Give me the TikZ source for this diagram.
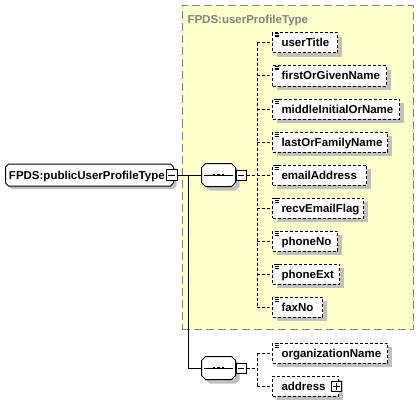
\documentclass[tikz,border=0pt]{standalone}
\usepackage{fontspec}
\setmainfont{Liberation Sans}
\usetikzlibrary{calc,shadows}
\definecolor{ybg}{RGB}{255,255,204}
\definecolor{shd}{RGB}{192,192,192}
\definecolor{hdr}{RGB}{128,128,128}
\newcommand\chamfpath[3]{%
  \path[#3] ([xshift=#2]#1.north west) -- ([xshift=-#2]#1.north east) -- ([yshift=-#2]#1.north east)
   -- ([yshift=#2]#1.south east) -- ([xshift=-#2]#1.south east) -- ([xshift=#2]#1.south west)
   -- ([yshift=#2]#1.south west) -- ([yshift=-#2]#1.north west) -- cycle;}
\newcommand\seqsym[1]{%
  \chamfpath{#1}{4pt}{fill=shd, transform canvas={xshift=4pt,yshift=-4pt}}
  \chamfpath{#1}{4pt}{draw, fill=white}
  \draw ([xshift=2.5pt]#1.west) -- ([xshift=-2.5pt]#1.east);
  \foreach \dx in {-4.5,0,4.5} \fill ([xshift=\dx pt]#1.center) ++(-1.4,-1.3) rectangle ++(2.8,2.6);}
\begin{document}
\begin{tikzpicture}[x=1pt,y=-1pt,line width=1pt,
  lab/.style={font=\fontsize{11.5}{13}\selectfont\bfseries, inner sep=0pt, anchor=base west},
  shp/.style={draw=none, inner sep=0pt},
  elem/.style={draw, dash pattern=on 3pt off 2pt, fill=white, inner sep=0pt, minimum height=20pt, anchor=west,
    general shadow={fill=shd, shadow xshift=4pt, shadow yshift=-4pt}},
  conn/.style={dash pattern=on 3pt off 2pt},
  sq/.style={draw, fill=white, inner sep=0pt, minimum size=10pt},
]
\useasboundingbox (0,0) rectangle (419,401);
\fill[white] (0,0) rectangle (419,401);

% group box
\node[draw=hdr, dash pattern=on 8pt off 4pt, fill=ybg, minimum width=231pt, minimum height=324pt,
      anchor=north west, inner sep=0pt] (grp) at (181.5,5) {};
\node[lab, text=hdr] (grpt) at (187,24) {FPDS:userProfileType};

% named shapes
\node[shp, minimum width=167pt, minimum height=21pt] (main) at (89.5,175) {};
\node[shp, minimum width=33pt, minimum height=22pt] (s1) at (218.5,175) {};
\node[shp, minimum width=33pt, minimum height=22pt] (s2) at (218.5,368) {};
\coordinate (j) at (188,175);
\coordinate (b1t) at (257,43);
\coordinate (b1b) at (257,307);
\coordinate (b2t) at (257,353);
\coordinate (b2b) at (257,386);

% main solid connectors
\draw (j) |- (s2.west);

% main node
\chamfpath{main}{3pt}{fill=shd, transform canvas={xshift=3pt,yshift=-3pt}}
\chamfpath{main}{3pt}{draw, fill=white}
\node[lab] (maint) at ([xshift=3pt,yshift=-4.5pt]main.west) {FPDS:publicUserProfileType};
\node[sq, minimum size=11pt] (mm) at (171.5,175) {};
\draw ([xshift=2.5pt]mm.west) -- ([xshift=-2.5pt]mm.east);
\draw (mm.east) -- (s1.west);

% sequences
\seqsym{s1}
\seqsym{s2}
\node[sq] (s1m) at (241,175) {};
\draw ([xshift=2.5pt]s1m.west) -- ([xshift=-2.5pt]s1m.east);
\node[sq] (s2m) at (241,368) {};
\draw ([xshift=2.5pt]s2m.west) -- ([xshift=-2.5pt]s2m.east);

\draw[conn] (s1m.east) -- (s1m.east -| b1t);
\draw[conn] (b1t) -- (b1b);
\draw[conn] (s2m.east) -- (s2m.east -| b2t);
\draw[conn] (b2t) -- (b2b);

% elements
\foreach \n/\y/\w/\t/\b in {e1/43/65/userTitle/b1t, e2/76/114/firstOrGivenName/b1t,
   e3/109/127/middleInitialOrName/b1t, e4/142/115/lastOrFamilyName/b1t,
   e5/175/94/emailAddress/b1t, e6/208/91/recvEmailFlag/b1t, e7/241/65/phoneNo/b1t,
   e8/274/67/phoneExt/b1t, e9/307/50/faxNo/b1t, e10/353/115/organizationName/b2t} {
  \draw[conn] (\b |- 272,\y) -- (272,\y);
  \node[elem, minimum width=\w pt] (\n) at (272,\y) {};
  \node[lab] (\n-t) at ([xshift=9pt,yshift=-4pt]\n.west) {\t};
  \foreach \dy in {0.8,2.6,4.4}
    \draw[line width=0.8pt] ([xshift=2.5pt,yshift=-\dy pt]\n.north west) -- ++(4.5,0);
}
\draw[conn] (b2b) -- (272,386);
\node[elem, minimum width=66pt] (e11) at (272,386) {};
\node[lab] (e11-t) at ([xshift=9pt,yshift=-4pt]e11.west) {address};
\node[sq, minimum size=9.5pt] (pl) at (336.5,386.5) {};
\draw ([xshift=2pt]pl.west) -- ([xshift=-2pt]pl.east);
\draw ([yshift=-2pt]pl.north) -- ([yshift=2pt]pl.south);
\end{tikzpicture}
\end{document}
